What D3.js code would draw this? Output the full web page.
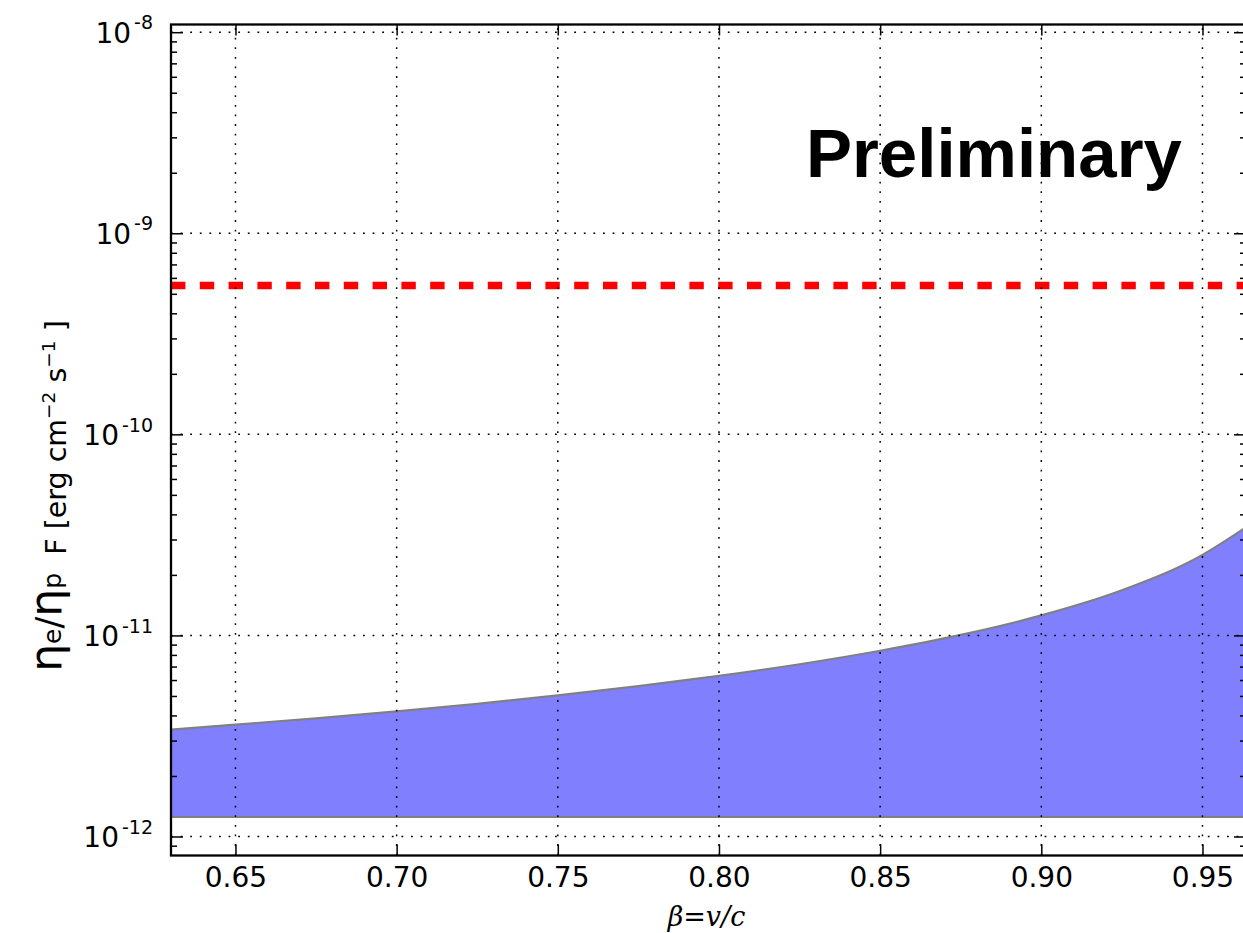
<!DOCTYPE html>
<html>
<head>
<meta charset="utf-8">
<script src="https://cdn.jsdelivr.net/npm/d3@7"></script>
<style>
  body { margin: 0; background: #fff; }
  svg { display: block; }
</style>
</head>
<body>
<svg id="chart" width="1243" height="933"></svg>
<script>
// Allowed flux band versus shock speed beta = v/c
const betaValues = [0.63, 0.65, 0.675, 0.70, 0.725, 0.75, 0.775, 0.80, 0.825, 0.85, 0.875, 0.90, 0.925, 0.95, 0.9635];
const upperFlux  = [3.40e-12, 3.60e-12, 3.87e-12, 4.19e-12, 4.57e-12, 5.03e-12, 5.59e-12, 6.29e-12,
                    7.19e-12, 8.39e-12, 1.006e-11, 1.258e-11, 1.677e-11, 2.516e-11, 3.45e-11];
const lowerFlux  = 1.25e-12;   // flat lower edge of the band
const limitFlux  = 5.5e-10;    // upper limit (red dashed)
const xTickValues = [0.65, 0.70, 0.75, 0.80, 0.85, 0.90, 0.95];
const yExponents  = [-12, -11, -10, -9, -8];
const xDomain = [0.63, 0.9635];
const yLogDomain = [-12.0945, -7.9617];

const svg = d3.select("#chart");
const L = 171, R = 1246, T = 24.5, B = 855.5;

const x = d3.scaleLinear().domain(xDomain).range([L, R]);
const y = d3.scaleLog().domain(yLogDomain.map(e => Math.pow(10, e))).range([B, T]);

const yMajor = yExponents.map(e => Math.pow(10, e));
const yMinor = [];
for (let e = -13; e <= -8; e++) {
  for (let m = 2; m <= 9; m++) {
    const v = m * Math.pow(10, e);
    if (v >= y.domain()[0] && v <= y.domain()[1]) yMinor.push(v);
  }
}

svg.append("defs").append("clipPath").attr("id", "plotClip")
  .append("rect").attr("x", L).attr("y", T).attr("width", R - L).attr("height", B - T);

const plot = svg.append("g").attr("clip-path", "url(#plotClip)");

const band = betaValues.map((b, i) => ({ b, hi: upperFlux[i] }));

// filled band between the flat lower edge and the rising upper curve
plot.append("path")
  .datum(band)
  .attr("fill", "#8080ff")
  .attr("d", d3.area()
    .x(d => x(d.b))
    .y0(() => y(lowerFlux))
    .y1(d => y(d.hi))
    .curve(d3.curveMonotoneX));

plot.append("path")
  .datum(band)
  .attr("fill", "none")
  .attr("stroke", "#808080")
  .attr("stroke-width", 2.2)
  .attr("d", d3.line().x(d => x(d.b)).y(d => y(d.hi)).curve(d3.curveMonotoneX));

plot.append("path")
  .datum(band)
  .attr("fill", "none")
  .attr("stroke", "#808080")
  .attr("stroke-width", 2.2)
  .attr("d", d3.line().x(d => x(d.b)).y(() => y(lowerFlux)));

// upper limit line
plot.append("path")
  .datum(xDomain)
  .attr("fill", "none")
  .attr("stroke", "#ff0000")
  .attr("stroke-width", 7.3)
  .attr("stroke-dasharray", "14.4,14.4")
  .attr("d", d3.line().x(d => x(d)).y(() => y(limitFlux)));

// dotted grid
const grid = plot.append("g")
  .attr("stroke", "#000")
  .attr("stroke-width", 1.5)
  .attr("stroke-dasharray", "1.8,7.8")
  .attr("fill", "none");
grid.selectAll("line.vx").data(xTickValues).join("line")
  .attr("x1", d => x(d)).attr("x2", d => x(d))
  .attr("y1", B).attr("y2", T);
grid.selectAll("line.hy").data(yMajor).join("line")
  .attr("x1", L).attr("x2", R)
  .attr("y1", d => y(d)).attr("y2", d => y(d));

// axes (ticks point inward)
function styleTicks(g) {
  g.select(".domain").remove();
  g.selectAll(".tick line").attr("stroke", "#000").attr("stroke-width", 1.5);
}

const xBottom = svg.append("g").attr("transform", `translate(0,${B})`)
  .call(d3.axisBottom(x).tickValues(xTickValues).tickSize(-11).tickPadding(11.5)
    .tickFormat(d3.format(".2f")));
styleTicks(xBottom);
xBottom.selectAll(".tick text")
  .attr("fill", "#000")
  .style("font-family", "'DejaVu Sans', sans-serif")
  .style("font-size", "28px");

const xTop = svg.append("g").attr("transform", `translate(0,${T})`)
  .call(d3.axisTop(x).tickValues(xTickValues).tickSize(-11).tickFormat(""));
styleTicks(xTop);

const yLeft = svg.append("g").attr("transform", `translate(${L},0)`)
  .call(d3.axisLeft(y).tickValues(yMajor).tickSize(-12).tickFormat(""));
styleTicks(yLeft);
const yLeftMinor = svg.append("g").attr("transform", `translate(${L},0)`)
  .call(d3.axisLeft(y).tickValues(yMinor).tickSize(-6).tickFormat(""));
styleTicks(yLeftMinor);
const yRight = svg.append("g").attr("transform", `translate(${R},0)`)
  .call(d3.axisRight(y).tickValues(yMajor).tickSize(-12).tickFormat(""));
styleTicks(yRight);
const yRightMinor = svg.append("g").attr("transform", `translate(${R},0)`)
  .call(d3.axisRight(y).tickValues(yMinor).tickSize(-6).tickFormat(""));
styleTicks(yRightMinor);

// power-of-ten labels
yLeft.selectAll(".tick").each(function(d) {
  const exp = Math.round(Math.log10(d));
  const t = d3.select(this).select("text")
    .attr("x", null).attr("dy", null)
    .attr("text-anchor", "end")
    .attr("fill", "#000")
    .style("font-family", "'DejaVu Sans', sans-serif");
  t.attr("transform", "translate(-18,10.2)");
  t.append("tspan").style("font-size", "28px").text("10");
  t.append("tspan").attr("dx", 3).attr("dy", -13.5).style("font-size", "19px").text(String(exp));
});

// spines
svg.append("rect")
  .attr("x", L).attr("y", T).attr("width", R - L).attr("height", B - T)
  .attr("fill", "none").attr("stroke", "#000").attr("stroke-width", 2.3);

// axis titles
svg.append("text")
  .attr("x", (L + R) / 2 - 2).attr("y", 926)
  .attr("text-anchor", "middle")
  .style("font-family", "'DejaVu Serif', serif")
  .style("font-style", "italic")
  .style("font-size", "27px")
  .text("β=v/c");

const yTitle = svg.append("text")
  .attr("transform", "translate(66,496) rotate(-90)")
  .attr("text-anchor", "middle")
  .attr("fill", "#000")
  .style("font-family", "'DejaVu Sans', sans-serif")
  .style("white-space", "pre");
yTitle.append("tspan").style("font-size", "44px").attr("dy", -5).text("η");
yTitle.append("tspan").style("font-size", "25px").text("e");
yTitle.append("tspan").style("font-size", "35px").text("/");
yTitle.append("tspan").style("font-size", "44px").text("η");
yTitle.append("tspan").style("font-size", "25px").text("p");
yTitle.append("tspan").style("font-size", "28.5px").attr("dy", 5).text("  F [erg cm");
yTitle.append("tspan").style("font-size", "18.5px").attr("dy", -11).text("−2");
yTitle.append("tspan").style("font-size", "28.5px").attr("dy", 11).text(" s");
yTitle.append("tspan").style("font-size", "18.5px").attr("dy", -11).text("−1");
yTitle.append("tspan").style("font-size", "28.5px").attr("dy", 11).text(" ]");

// watermark
svg.append("text")
  .attr("x", 806).attr("y", 177)
  .style("font-family", "'Liberation Sans', Arial, sans-serif")
  .style("font-weight", "bold")
  .style("font-size", "69px")
  .text("Preliminary");
</script>
</body>
</html>
